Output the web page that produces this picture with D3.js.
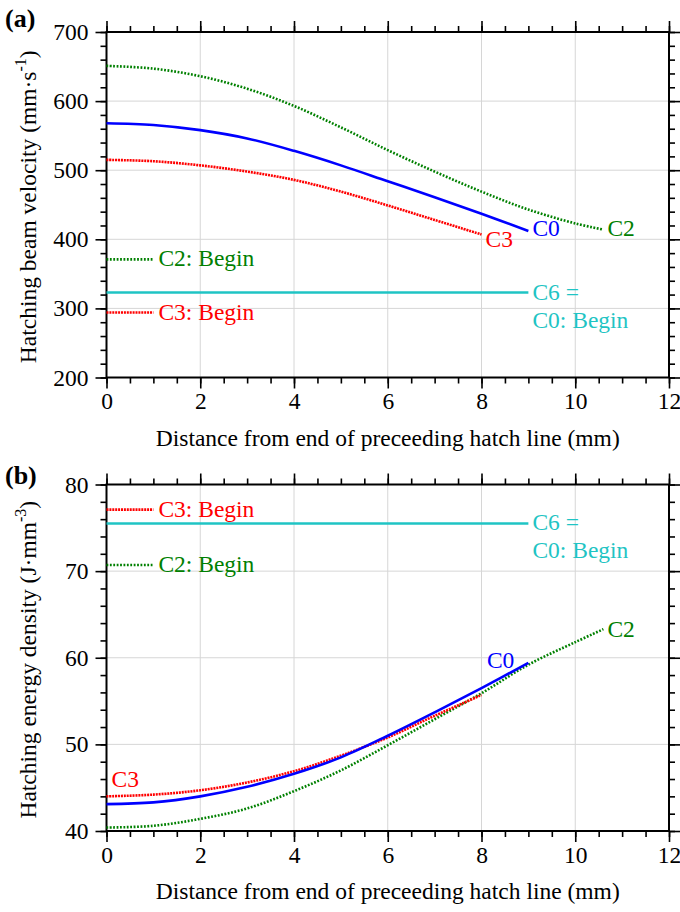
<!DOCTYPE html>
<html><head><meta charset="utf-8">
<script src="https://cdn.jsdelivr.net/npm/d3@7"></script>
<style>
body{margin:0;background:#fff;}
svg text{font-family:"Liberation Serif","Times New Roman",serif;}
</style></head>
<body><svg id="c" width="680" height="912"></svg>
<script>
// ---------- data ----------
const xTicks = [0, 2, 4, 6, 8, 10, 12];
const velTicks = [200, 300, 400, 500, 600, 700];
const enTicks = [40, 50, 60, 70, 80];

const distC0 = [0, 1, 2, 3, 4, 5, 6, 7, 8, 9];
const velC0 = [568, 565.5, 558, 546, 528, 507, 484, 461, 437, 412];
const distC2 = [0, 1, 2, 3, 4, 5, 6, 7, 8, 9, 10, 10.6];
const velC2 = [651, 647, 636, 618, 593, 562, 529, 498, 469, 443, 423, 414];
const distC3 = [0, 1, 2, 3, 4, 5, 6, 7, 8];
const velC3 = [515, 513, 507, 498, 486, 469, 449, 428, 407];

const enC0 = [43.1, 43.3, 44.0, 45.1, 46.6, 48.5, 51.0, 53.7, 56.5, 59.4];
const enC2 = [40.4, 40.6, 41.4, 42.6, 44.6, 47.0, 49.9, 52.9, 55.9, 59.2, 61.8, 63.3];
const enC3 = [44.0, 44.2, 44.7, 45.6, 46.9, 48.7, 50.8, 53.3, 55.7];

const beginDist = [0, 1];
const c6Dist = [0, 9];
const velBegin = { C2: 371, C3: 294, C6: 323 };
const enBegin = { C2: 70.7, C3: 77.1, C6: 75.5 };

const xTitle = "Distance from end of preceeding hatch line (mm)";

// ---------- styles ----------
const col = { C0: "#0000ff", C2: "#008000", C3: "#ff0000", C6: "#1fc4c4" };
const dash = { C0: null, C2: "1.8,1.6", C3: "2,0.9", C6: null };
const FS = 23.5, LFS = 23.5;

const svg = d3.select("#c");
const X0 = 106.5, X1 = 669;
const x = d3.scaleLinear().domain([0, 12]).range([X0, X1]);

function panel(cfg) {
  const { y, yTicks, yMinorStep, top, bottom, title, sup, label, labelY } = cfg;
  const g = svg.append("g");
  const [ymin, ymax] = y.domain();
  g.append("g").selectAll("line").data(xTicks.slice(1, -1)).join("line")
    .attr("x1", d => x(d)).attr("x2", d => x(d)).attr("y1", top).attr("y2", bottom)
    .attr("stroke", "#d6d6d6").attr("stroke-width", 1);
  g.append("g").selectAll("line").data(yTicks.slice(1, -1)).join("line")
    .attr("y1", d => y(d)).attr("y2", d => y(d)).attr("x1", X0).attr("x2", X1)
    .attr("stroke", "#d6d6d6").attr("stroke-width", 1);

  const xMinor = d3.range(0, 12.001, 0.5);
  const yMinor = d3.range(ymin, ymax + 0.001, yMinorStep);
  const styleAx = s => { s.select(".domain").remove(); s.selectAll("line").attr("stroke", "#000").attr("stroke-width", 1.6); };

  g.append("g").attr("transform", `translate(0,${bottom})`)
    .call(d3.axisBottom(x).tickValues(xMinor).tickSize(6).tickFormat("")).call(styleAx);
  const bx = g.append("g").attr("transform", `translate(0,${bottom})`)
    .call(d3.axisBottom(x).tickValues(xTicks).tickSize(11).tickPadding(4).tickFormat(d3.format("d"))).call(styleAx);
  bx.selectAll("text").attr("font-size", FS).attr("fill", "#000");
  g.append("g").attr("transform", `translate(0,${top})`)
    .call(d3.axisTop(x).tickValues(xMinor).tickSize(6).tickFormat("")).call(styleAx);
  g.append("g").attr("transform", `translate(0,${top})`)
    .call(d3.axisTop(x).tickValues(xTicks).tickSize(11).tickFormat("")).call(styleAx);
  g.append("g").attr("transform", `translate(${X0},0)`)
    .call(d3.axisLeft(y).tickValues(yMinor).tickSize(6).tickFormat("")).call(styleAx);
  const ly = g.append("g").attr("transform", `translate(${X0},0)`)
    .call(d3.axisLeft(y).tickValues(yTicks).tickSize(11).tickPadding(7).tickFormat(d3.format("d"))).call(styleAx);
  ly.selectAll("text").attr("font-size", FS).attr("fill", "#000");
  g.append("g").attr("transform", `translate(${X1},0)`)
    .call(d3.axisRight(y).tickValues(yMinor).tickSize(6).tickFormat("")).call(styleAx);
  g.append("g").attr("transform", `translate(${X1},0)`)
    .call(d3.axisRight(y).tickValues(yTicks).tickSize(11).tickFormat("")).call(styleAx);
  g.append("rect").attr("x", X0).attr("y", top).attr("width", X1 - X0).attr("height", bottom - top)
    .attr("fill", "none").attr("stroke", "#000").attr("stroke-width", 2);

  g.append("text").attr("x", (X0 + X1) / 2).attr("y", bottom + 68).attr("text-anchor", "middle")
    .attr("font-size", FS).text(xTitle);
  const yt = g.append("text").attr("transform", `translate(36,${(top + bottom) / 2 + 2}) rotate(-90)`)
    .attr("text-anchor", "middle").attr("font-size", FS);
  yt.append("tspan").text(title);
  yt.append("tspan").attr("font-size", 16).attr("dy", -10).text(sup);
  yt.append("tspan").attr("dy", 10).text(")");
  svg.append("text").attr("x", 5).attr("y", labelY).attr("font-size", 26).attr("font-weight", "bold").text(label);
  return g;
}

function drawLine(g, y, xs, ys, key) {
  const line = d3.line().x((d, i) => x(xs[i])).y(d => y(d)).curve(d3.curveCatmullRom.alpha(0.5));
  const p = g.append("path").datum(ys).attr("d", line).attr("fill", "none")
    .attr("stroke", col[key]).attr("stroke-width", 2.6);
  if (dash[key]) p.attr("stroke-dasharray", dash[key]);
}
function hLine(g, y, xs, v, key) {
  drawLine(g, y, xs, xs.map(() => v), key);
}
function label(g, px, py, txt, key, anchor) {
  g.append("text").attr("x", px).attr("y", py).attr("font-size", LFS).attr("fill", col[key])
    .attr("text-anchor", anchor || "start").text(txt);
}

// ---------- panel (a) ----------
const ya = d3.scaleLinear().domain([200, 700]).range([377.5, 32]);
const ga = panel({ y: ya, yTicks: velTicks, yMinorStep: 20, top: 32, bottom: 377.5,
  title: "Hatching beam velocity (mm·s", sup: "-1", label: "(a)", labelY: 27 });
hLine(ga, ya, c6Dist, velBegin.C6, "C6");
hLine(ga, ya, beginDist, velBegin.C2, "C2");
hLine(ga, ya, beginDist, velBegin.C3, "C3");
drawLine(ga, ya, distC2, velC2, "C2");
drawLine(ga, ya, distC0, velC0, "C0");
drawLine(ga, ya, distC3, velC3, "C3");
label(ga, x(9) + 4, ya(velC0[velC0.length - 1]) + 5, "C0", "C0");
label(ga, x(10.6) + 4, ya(velC2[velC2.length - 1]) + 6, "C2", "C2");
label(ga, x(8) + 4, ya(velC3[velC3.length - 1]) + 13, "C3", "C3");
label(ga, x(9) + 4, ya(velBegin.C6) + 7, "C6 =", "C6");
label(ga, x(9) + 4, ya(velBegin.C6) + 35, "C0: Begin", "C6");
label(ga, x(1) + 5, ya(velBegin.C2) + 7, "C2: Begin", "C2");
label(ga, x(1) + 5, ya(velBegin.C3) + 7, "C3: Begin", "C3");

// ---------- panel (b) ----------
const yb = d3.scaleLinear().domain([40, 80]).range([831, 484.5]);
const gb = panel({ y: yb, yTicks: enTicks, yMinorStep: 2, top: 484.5, bottom: 831,
  title: "Hatching energy density (J·mm", sup: "-3", label: "(b)", labelY: 484 });
hLine(gb, yb, c6Dist, enBegin.C6, "C6");
hLine(gb, yb, beginDist, enBegin.C2, "C2");
hLine(gb, yb, beginDist, enBegin.C3, "C3");
drawLine(gb, yb, distC2, enC2, "C2");
drawLine(gb, yb, distC3, enC3, "C3");
drawLine(gb, yb, distC0, enC0, "C0");
label(gb, x(9) - 14, yb(enC0[enC0.length - 1]) + 5, "C0", "C0", "end");
label(gb, x(10.6) + 4, yb(enC2[enC2.length - 1]) + 8, "C2", "C2");
label(gb, x(0) + 5, yb(enC3[0]) - 9, "C3", "C3");
label(gb, x(9) + 4, yb(enBegin.C6) + 7, "C6 =", "C6");
label(gb, x(9) + 4, yb(enBegin.C6) + 35, "C0: Begin", "C6");
label(gb, x(1) + 5, yb(enBegin.C2) + 7, "C2: Begin", "C2");
label(gb, x(1) + 5, yb(enBegin.C3) + 7, "C3: Begin", "C3");
</script></body></html>
